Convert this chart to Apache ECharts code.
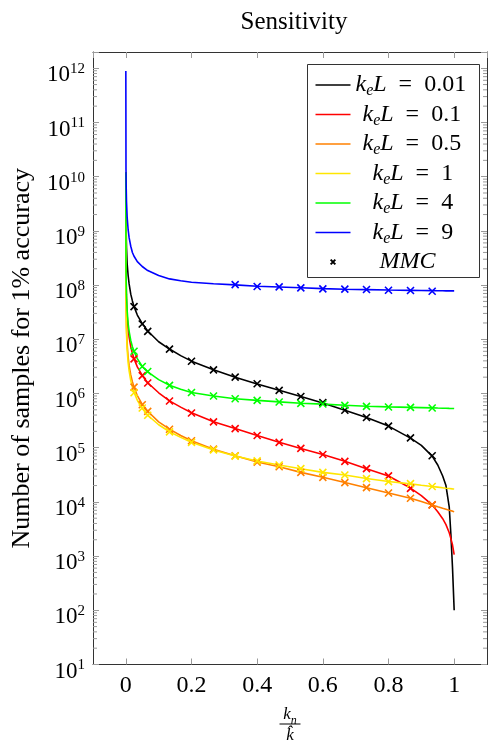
<!DOCTYPE html>
<html><head><meta charset="utf-8">
<script src="https://cdn.jsdelivr.net/npm/echarts@6/dist/echarts.min.js"></script>
<style>html,body{margin:0;padding:0;background:#fff}#c{width:489px;height:749px}</style>
</head><body><div id="c"></div>
<script>
// ---- data ----
const LINE_X = [0, 0.0005, 0.001, 0.002, 0.004, 0.007, 0.01, 0.015, 0.02, 0.025, 0.035, 0.05, 0.0667, 0.1, 0.133, 0.167, 0.2, 0.267, 0.333, 0.4, 0.467, 0.533, 0.6, 0.667, 0.733, 0.8, 0.867, 0.9, 0.933, 0.95, 0.965, 0.975, 0.985, 0.99, 0.995, 1.0];
const BLACK_LINE  = [1.2e10, 2.0e9, 1.0e9, 5.0e8, 2.5e8, 1.5e8, 1.05e8, 6.8e7, 5.1e7, 4.0e7, 2.8e7, 1.95e7, 1.42e7, 9.0e6, 6.6e6, 5.0e6, 3.95e6, 2.75e6, 2.0e6, 1.5e6, 1.15e6, 8.8e5, 6.7e5, 4.9e5, 3.6e5, 2.5e5, 1.5e5, 1.1e5, 7.0e4, 4.8e4, 3.0e4, 2.0e4, 8.0e3, 2.5e3, 6.0e2, 1.0e2];
const RED_LINE    = [1.2e10, 2.2e8, 1.1e8, 5.5e7, 2.75e7, 1.57e7, 1.1e7, 7.3e6, 5.5e6, 4.35e6, 3.1e6, 2.15e6, 1.58e6, 1.03e6, 7.3e5, 5.6e5, 4.4e5, 3.0e5, 2.25e5, 1.68e5, 1.26e5, 9.7e4, 7.5e4, 5.6e4, 4.1e4, 3.0e4, 1.8e4, 1.3e4, 8.8e3, 6.6e3, 4.9e3, 3.8e3, 2.7e3, 2.1e3, 1.6e3, 1.06e3];
const ORANGE_LINE = [1.2e10, 6.6e7, 3.3e7, 1.65e7, 8.2e6, 4.7e6, 3.3e6, 2.2e6, 1.65e6, 1.31e6, 9.1e5, 6.3e5, 4.7e5, 3.0e5, 2.2e5, 1.68e5, 1.34e5, 9.4e4, 7.1e4, 5.45e4, 4.45e4, 3.5e4, 2.84e4, 2.27e4, 1.83e4, 1.46e4, 1.17e4, 1.02e4, 8.8e3, 8.1e3, 7.6e3, 7.3e3, 7.0e3, 6.9e3, 6.75e3, 6.6e3];
const YELLOW_LINE = [1.2e10, 5.2e7, 2.6e7, 1.3e7, 6.5e6, 3.7e6, 2.6e6, 1.73e6, 1.3e6, 1.04e6, 7.5e5, 5.3e5, 3.97e5, 2.65e5, 1.97e5, 1.55e5, 1.26e5, 9.1e4, 7.0e4, 5.7e4, 4.8e4, 4.1e4, 3.5e4, 3.13e4, 2.7e4, 2.38e4, 2.15e4, 2.03e4, 1.92e4, 1.87e4, 1.82e4, 1.79e4, 1.77e4, 1.76e4, 1.74e4, 1.73e4];
const GREEN_LINE  = [1.2e10, 2.7e8, 1.35e8, 6.8e7, 3.4e7, 1.95e7, 1.4e7, 9.5e6, 7.3e6, 6.0e6, 4.4e6, 3.15e6, 2.5e6, 1.8e6, 1.42e6, 1.2e6, 1.04e6, 9.0e5, 8.0e5, 7.45e5, 7.0e5, 6.6e5, 6.35e5, 6.05e5, 5.8e5, 5.65e5, 5.55e5, 5.48e5, 5.42e5, 5.38e5, 5.35e5, 5.33e5, 5.31e5, 5.3e5, 5.3e5, 5.28e5];
const BLUE_LINE   = [8.9e11, 1.4e10, 7.0e9, 3.5e9, 1.8e9, 1.05e9, 7.5e8, 5.2e8, 4.0e8, 3.4e8, 2.7e8, 2.2e8, 1.85e8, 1.5e8, 1.3e8, 1.2e8, 1.13e8, 1.06e8, 1.01e8, 9.5e7, 9.2e7, 8.9e7, 8.6e7, 8.4e7, 8.25e7, 8.1e7, 8.0e7, 7.95e7, 7.9e7, 7.88e7, 7.85e7, 7.83e7, 7.82e7, 7.81e7, 7.8e7, 7.8e7];

const MMC_X = [0.025, 0.05, 0.0667, 0.133, 0.2, 0.267, 0.333, 0.4, 0.467, 0.533, 0.6, 0.667, 0.733, 0.8, 0.867, 0.933];
const BLACK_MMC  = [4.0e7, 1.91e7, 1.40e7, 6.6e6, 3.94e6, 2.73e6, 2.0e6, 1.51e6, 1.14e6, 8.8e5, 6.8e5, 4.9e5, 3.6e5, 2.5e5, 1.52e5, 7.1e4];
const RED_MMC    = [4.35e6, 2.14e6, 1.56e6, 7.27e5, 4.37e5, 2.99e5, 2.25e5, 1.68e5, 1.25e5, 9.7e4, 7.5e4, 5.58e4, 4.1e4, 3.02e4, 1.78e4, 8.8e3];
const ORANGE_MMC = [1.31e6, 6.2e5, 4.68e5, 2.19e5, 1.34e5, 9.4e4, 7.1e4, 5.42e4, 4.46e4, 3.5e4, 2.84e4, 2.27e4, 1.83e4, 1.46e4, 1.17e4, 8.8e3];
const YELLOW_MMC = [1.03e6, 5.4e5, 3.96e5, 1.96e5, 1.25e5, 9.1e4, 7.0e4, 5.7e4, 4.8e4, 4.1e4, 3.5e4, 3.13e4, 2.69e4, 2.37e4, 2.17e4, 1.92e4];
const GREEN_MMC  = [6.0e6, 3.14e6, 2.54e6, 1.41e6, 1.04e6, 8.97e5, 8.0e5, 7.45e5, 6.96e5, 6.57e5, 6.4e5, 6.03e5, 5.78e5, 5.64e5, 5.54e5, 5.41e5];
const BLUE_MMC   = [null, null, null, null, null, null, 1.02e8, 9.4e7, 9.25e7, 8.87e7, 8.5e7, 8.4e7, 8.28e7, 8.04e7, 7.94e7, 7.7e7];

const SERIES_NAMES = ['k_eL = 0.01', 'k_eL = 0.1', 'k_eL = 0.5', 'k_eL = 1', 'k_eL = 4', 'k_eL = 9'];
const MMC_NAME = 'MMC';
const X_TICKS = [0, 0.2, 0.4, 0.6, 0.8, 1];
const Y_EXPONENTS = [1, 2, 3, 4, 5, 6, 7, 8, 9, 10, 11, 12];

// ---- styling ----
const FONT = "'Liberation Serif', 'Times New Roman', serif";
const COLORS = ['#000000', '#ff0000', '#ff8000', '#ffe600', '#00ff00', '#0000ff'];
const LINE_VALUES = [BLACK_LINE, RED_LINE, ORANGE_LINE, YELLOW_LINE, GREEN_LINE, BLUE_LINE];
const MMC_VALUES = [BLACK_MMC, RED_MMC, ORANGE_MMC, YELLOW_MMC, GREEN_MMC, BLUE_MMC];
const X_MIN = -0.1, X_MAX = 1.1, Y_MIN = 1, Y_MAX = 12.3;
const TICK_COLOR = '#9a9a9a';
const FRAME_COLOR = '#333';
const CROSS = 'path://M-10,-10M20,20M0,0L10,10M10,0L0,10';
const LEGEND_LINE = 'path://M0,-7M35,7M0,0L35,0';

const MINOR_TICKS = [];
for (let n = Y_MIN; n < 12; n++) for (let k = 2; k <= 9; k++) MINOR_TICKS.push(k * Math.pow(10, n));

const toPts = (xs, vs) => xs.map((x, i) => vs[i] == null ? null : [x, Math.log10(vs[i])]).filter(p => p);

const series = [];
SERIES_NAMES.forEach((name, i) => {
  series.push({
    type: 'line', name, data: toPts(LINE_X, LINE_VALUES[i]),
    symbol: 'none', showSymbol: false, smooth: false,
    lineStyle: { color: COLORS[i], width: 1.6 }, itemStyle: { color: COLORS[i] },
    z: 2, silent: true
  });
});
series.push({
  type: 'custom', name: '_minor', silent: true, clip: false, z: 1,
  data: MINOR_TICKS.map(v => [0, Math.log10(v)]), encode: { x: 0, y: 1 },
  renderItem: (params, api) => {
    const y = api.value(1);
    const l = api.coord([X_MIN, y]), r = api.coord([X_MAX, y]);
    return { type: 'group', children: [
      { type: 'line', shape: { x1: l[0], y1: l[1], x2: l[0] + 4, y2: l[1] }, style: { stroke: TICK_COLOR, lineWidth: 1 } },
      { type: 'line', shape: { x1: r[0] - 4, y1: r[1], x2: r[0], y2: r[1] }, style: { stroke: TICK_COLOR, lineWidth: 1 } }
    ] };
  }
});
MMC_VALUES.forEach((vals, i) => {
  series.push({
    type: 'scatter', name: MMC_NAME, data: toPts(MMC_X, vals),
    symbol: CROSS, symbolSize: 21,
    itemStyle: { color: COLORS[i], borderColor: COLORS[i], borderWidth: 1.6, opacity: 1 },
    z: 3, silent: true
  });
});

const legendData = SERIES_NAMES.map((name, i) => ({
  name, icon: LEGEND_LINE,
  itemStyle: { color: 'none', borderColor: COLORS[i], borderWidth: 1.6 }
})).concat([{ name: MMC_NAME }]);

const legendPad = { 4: '', 3: '{p1|\u00a0}', 1: '{p2|\u00a0}' };
const chart = echarts.init(document.getElementById('c'), null, { renderer: 'canvas' });
chart.setOption({
  animation: false,
  backgroundColor: '#fff',
  title: {
    text: 'Sensitivity', left: 289, top: 5, textAlign: 'center',
    textStyle: { fontFamily: FONT, fontSize: 25, fontWeight: 'normal', color: '#000' }
  },
  grid: { left: 93, right: 2, top: 52, bottom: 82, containLabel: false },
  xAxis: [{
    type: 'value', min: X_MIN, max: X_MAX, splitNumber: 6, position: 'bottom',
    axisLine: { show: true, onZero: false, lineStyle: { color: FRAME_COLOR, width: 1 } },
    axisTick: { show: true, inside: true, length: 6, lineStyle: { color: TICK_COLOR } },
    splitLine: { show: false },
    axisLabel: {
      show: true, margin: 9, showMinLabel: false, showMaxLabel: false,
      fontFamily: FONT, fontSize: 24, color: '#000',
      formatter: v => X_TICKS.some(t => Math.abs(t - v) < 1e-9) ? String(+v.toFixed(1)) : ''
    },
    name: '{n|k}{ns|n}\n{bar|\u00a0}\n{d|k\u0302}',
    nameLocation: 'middle', nameGap: 42,
    nameTextStyle: {
      color: '#000', fontFamily: FONT,
      rich: {
        n: { fontFamily: FONT, fontStyle: 'italic', fontSize: 17, lineHeight: 17, verticalAlign: 'top', color: '#000' },
        ns: { fontFamily: FONT, fontStyle: 'italic', fontSize: 12, lineHeight: 12, padding: [8, 0, 0, 0], verticalAlign: 'top', color: '#000' },
        bar: { width: 21, height: 1, lineHeight: 1, fontSize: 1, backgroundColor: '#000' },
        d: { fontFamily: FONT, fontStyle: 'italic', fontSize: 17, lineHeight: 20, padding: [2, 0, 0, 0], color: '#000' }
      }
    }
  }, {
    type: 'value', min: X_MIN, max: X_MAX, splitNumber: 6, position: 'top',
    axisLine: { show: true, onZero: false, lineStyle: { color: FRAME_COLOR, width: 1 } },
    axisTick: { show: true, inside: true, length: 6, lineStyle: { color: TICK_COLOR } },
    splitLine: { show: false }, axisLabel: { show: false }
  }],
  yAxis: [{
    type: 'value', min: Y_MIN, max: Y_MAX, interval: 1, position: 'left',
    axisLine: { show: true, onZero: false, lineStyle: { color: FRAME_COLOR, width: 1 } },
    axisTick: { show: true, inside: true, length: 6, lineStyle: { color: TICK_COLOR } },
    splitLine: { show: false },
    axisLabel: {
      show: true, margin: 8, color: '#000',
      formatter: v => Y_EXPONENTS.indexOf(Math.round(v * 1000) / 1000) >= 0 ? '{b|10}{sup|' + Math.round(v) + '}' : '',
      rich: {
        b: { fontFamily: FONT, fontSize: 23, lineHeight: 23, padding: [7, 0, 0, 0], verticalAlign: 'top', color: '#000' },
        sup: { fontFamily: FONT, fontSize: 15, lineHeight: 15, padding: [5, 0, 0, 0], verticalAlign: 'top', color: '#000' }
      }
    },
    name: 'Number of samples for 1% accuracy', nameLocation: 'middle', nameGap: 58,
    nameTextStyle: { fontFamily: FONT, fontSize: 26, color: '#000' }
  }, {
    type: 'value', min: Y_MIN, max: Y_MAX, interval: 1, position: 'right',
    axisLine: { show: true, onZero: false, lineStyle: { color: FRAME_COLOR, width: 1 } },
    axisTick: { show: true, inside: true, length: 6, lineStyle: { color: TICK_COLOR } },
    splitLine: { show: false }, axisLabel: { show: false }
  }],
  legend: {
    orient: 'vertical', left: 313, top: 73, padding: 0, itemGap: 3.5,
    itemWidth: 35, itemHeight: 14, selectedMode: false,
    data: legendData,
    formatter: name => {
      if (name === MMC_NAME) return '{p3|\u00a0}{it|MMC}';
      const v = name.split('= ')[1];
      return (legendPad[v.length] || '') + '{it|k}{sub|e}{it|L}{tx|\u2002=\u2002' + v + '}';
    },
    textStyle: {
      fontFamily: FONT, fontSize: 24, color: '#000',
      rich: {
        it: { fontFamily: FONT, fontStyle: 'italic', fontSize: 24, lineHeight: 24, verticalAlign: 'top', color: '#000' },
        sub: { fontFamily: FONT, fontStyle: 'italic', fontSize: 16, lineHeight: 16, padding: [10, 0, 0, 0], verticalAlign: 'top', color: '#000' },
        tx: { fontFamily: FONT, fontSize: 24, lineHeight: 24, verticalAlign: 'top', color: '#000' },
        p1: { width: 7, fontSize: 10 },
        p2: { width: 17, fontSize: 10 },
        p3: { width: 24, fontSize: 10 }
      }
    }
  },
  graphic: [{
    type: 'rect', z: 3, silent: true,
    shape: { x: 307.5, y: 64.5, width: 172, height: 213 },
    style: { fill: '#fff', stroke: FRAME_COLOR, lineWidth: 1 }
  }],
  series
});
</script></body></html>
